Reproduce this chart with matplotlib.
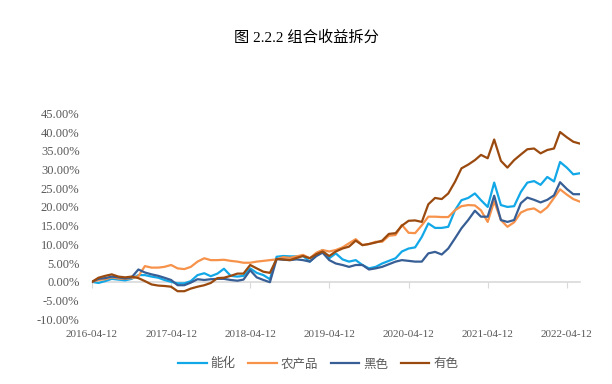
import matplotlib
matplotlib.use("Agg")
import matplotlib.pyplot as plt
import matplotlib.dates as mdates
import pandas as pd

# monthly points (percent)
dates = pd.date_range("2016-04-12", periods=75, freq=pd.DateOffset(months=1))

nenghua = [0, -0.3, 0.2, 0.8, 0.6, 0.4, 0.8, 1.8, 1.8, 1.4, 1.1, 0.5, 0.0, -0.4, -0.4,
           0.2, 1.8, 2.3, 1.5, 2.2, 3.5, 1.6, 1.4, 1.6, 3.6, 2.4, 1.8, 0.7, 6.7, 6.9,
           6.8, 6.8, 6.9, 5.4, 7.1, 8.5, 6.3, 7.6, 6.0, 5.4, 5.8, 4.5, 3.6, 4.0, 4.9,
           5.6, 6.3, 8.1, 8.9, 9.2, 12.0, 15.6, 14.4, 14.4, 14.7, 19.1, 21.8, 22.4, 23.6, 21.8,
           20.0, 26.5, 20.5, 20.0, 20.2, 24.0, 26.5, 26.9, 25.9, 28.0, 26.8, 32.0, 30.5, 28.7, 29.0]
nongchanpin = [0, 0.5, 0.7, 1.2, 0.9, 0.8, 1.0, 1.5, 4.2, 3.8, 3.8, 4.0, 4.5, 3.6, 3.4,
               4.0, 5.4, 6.3, 5.8, 5.8, 5.9, 5.6, 5.4, 5.1, 5.1, 5.4, 5.6, 5.8, 6.0, 6.6,
               6.4, 6.8, 7.2, 6.3, 7.8, 8.5, 8.1, 8.5, 9.2, 10.3, 11.4, 9.8, 10.1, 10.7, 10.7,
               12.3, 12.5, 15.2, 13.1, 13.0, 15.1, 17.4, 17.4, 17.3, 17.3, 19.1, 20.2, 20.5, 20.4, 19.1,
               16.0, 21.5, 16.5, 14.7, 15.9, 18.5, 19.3, 19.6, 18.5, 19.9, 22.4, 24.7, 23.3, 22.1, 21.4]
heise = [0, 0.8, 1.0, 1.4, 1.2, 0.9, 1.2, 3.3, 2.5, 2.0, 1.6, 1.1, 0.5, -0.9, -0.9,
         -0.2, 0.7, 0.5, 0.7, 0.8, 0.8, 0.5, 0.3, 0.6, 3.1, 1.2, 0.5, -0.1, 6.1, 5.9,
         5.8, 6.0, 5.8, 5.4, 6.9, 7.8, 5.8, 4.9, 4.5, 4.0, 4.5, 4.5, 3.3, 3.6, 4.0,
         4.7, 5.4, 5.8, 5.6, 5.4, 5.4, 7.6, 8.0, 7.3, 8.9, 11.6, 14.3, 16.5, 19.0, 17.4,
         17.4, 23.0, 16.5, 16.0, 16.5, 21.0, 22.5, 21.9, 21.2, 21.9, 23.1, 26.6, 24.8, 23.4, 23.4]
youse = [0, 1.1, 1.6, 2.0, 1.4, 1.2, 1.4, 1.0, 0.2, -0.7, -1.0, -1.1, -1.3, -2.5, -2.5,
         -1.8, -1.3, -0.9, -0.3, 1.0, 1.1, 1.6, 2.2, 2.2, 4.5, 3.6, 2.7, 2.4, 6.1, 6.0,
         5.8, 6.4, 6.9, 6.3, 7.4, 8.1, 6.9, 8.1, 8.9, 9.4, 11.0, 9.8, 10.1, 10.5, 11.0,
         12.8, 13.0, 15.0, 16.3, 16.4, 16.0, 20.7, 22.4, 22.1, 23.6, 26.7, 30.3, 31.3, 32.5, 33.9,
         33.0, 38.0, 32.3, 30.5, 32.5, 34.0, 35.4, 35.6, 34.3, 35.2, 35.6, 40.0, 38.6, 37.4, 36.9]

series = ["能化", "农产品", "黑色", "有色"]
colors = ["#12A8E8", "#F7924A", "#375E95", "#9A4A0F"]
tick_dates = pd.to_datetime(["2016-04-12", "2017-04-12", "2018-04-12", "2019-04-12",
                             "2020-04-12", "2021-04-12", "2022-04-12"])

plt.rcParams["font.family"] = ["Liberation Serif", "Noto Sans CJK SC", "DejaVu Sans"]
plt.rcParams["xtick.labelsize"] = 8
plt.rcParams["ytick.labelsize"] = 9
plt.rcParams["xtick.color"] = "#d9d9d9"
plt.rcParams["xtick.labelcolor"] = "#595959"
plt.rcParams["ytick.labelcolor"] = "#595959"

fig = plt.figure(figsize=(6.12, 3.84), dpi=100)
ax = fig.add_axes([92 / 612, 1 - 319.3 / 384, (580 - 92) / 612, (319.3 - 113.3) / 384])

for vals, name, c in zip([nenghua, nongchanpin, heise, youse], series, colors):
    ax.plot(dates, vals, color=c, lw=1.6, label=name)

ax.set_ylim(-10, 45)
ax.set_yticks(range(-10, 50, 5))
ax.yaxis.set_major_formatter(lambda v, p: f"{v:.2f}%")
ax.set_xlim(dates[0], dates[-1])
ax.xaxis.set_major_locator(mdates.YearLocator(1, month=4, day=12))
ax.xaxis.set_major_formatter(mdates.DateFormatter("%Y-%m-%d"))

for s in ["top", "right", "left"]:
    ax.spines[s].set_visible(False)
ax.spines["bottom"].set_position(("data", 0))
ax.spines["bottom"].set_color("#d9d9d9")
ax.spines["bottom"].set_linewidth(1.2)
ax.spines["bottom"].set_zorder(0)
ax.tick_params(axis="y", length=0, pad=9)
ax.tick_params(axis="x", length=4, pad=31)

fig.text(0.5, 1 - 38 / 384, "图 2.2.2 组合收益拆分", ha="center", va="center", fontsize=11)

leg = ax.legend(loc="center", bbox_to_anchor=(318 / 612, 1 - 364 / 384),
                bbox_transform=fig.transFigure, ncol=4, frameon=False,
                handlelength=2.3, handletextpad=0.3, columnspacing=1.0,
                prop={"family": ["Noto Sans CJK SC", "DejaVu Sans"], "size": 9})
for t in leg.get_texts():
    t.set_color("#595959")

fig.savefig("out.png", dpi=100)
